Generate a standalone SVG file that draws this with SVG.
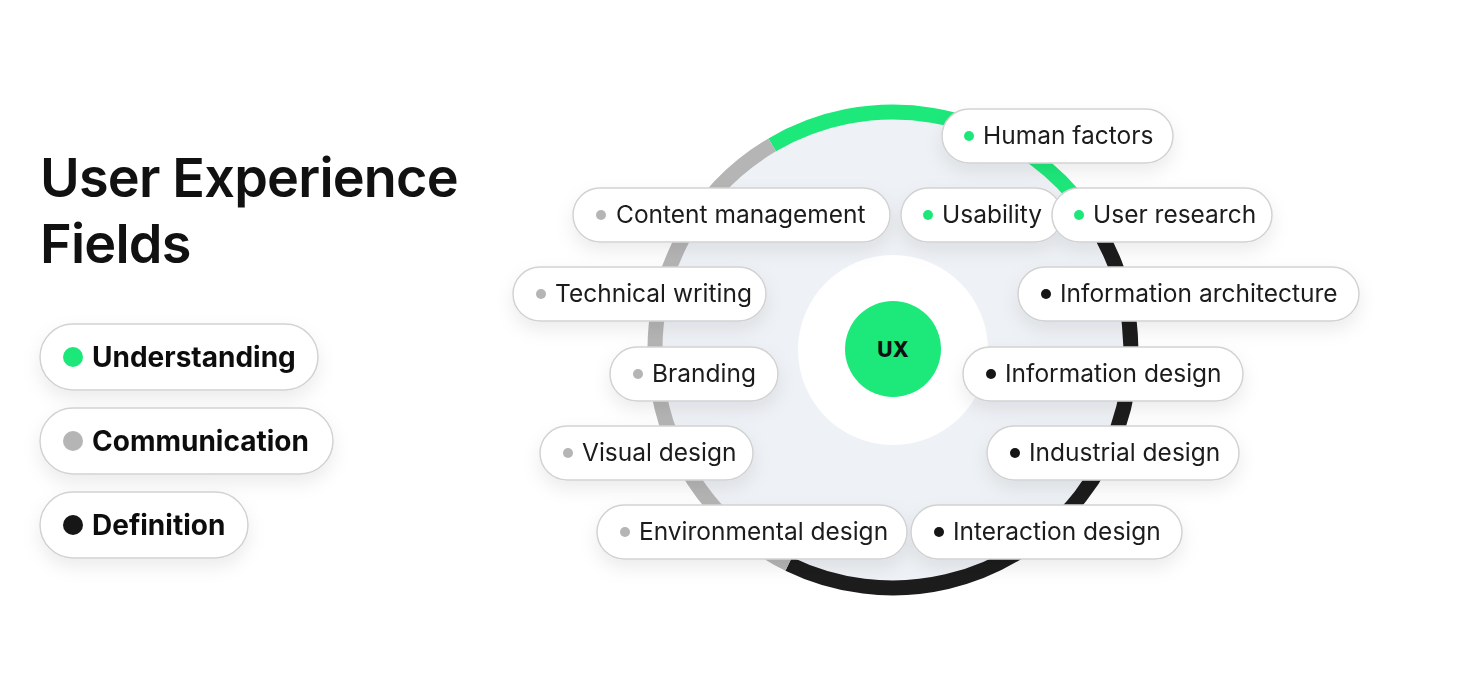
<svg xmlns="http://www.w3.org/2000/svg" width="1460" height="700" viewBox="0 0 1460 700">
<style>
.pill{fill:#fff;stroke:#d2d2d2;stroke-width:1.5}
.t{font-family:Inter,"Noto Sans",sans-serif;font-size:24.5px;fill:#1a1a1a}
.lt{font-family:Inter,"Noto Sans",sans-serif;font-size:28px;font-weight:700;fill:#111}
.g{fill:#1de87a}.c{fill:#b5b5b5}.d{fill:#161616}
.arc{fill:none;stroke-width:15}
</style>
<defs>
<filter id="sh" x="-20%" y="-40%" width="140%" height="200%"><feDropShadow dx="0" dy="8" stdDeviation="9" flood-color="#000" flood-opacity="0.08"/></filter>
</defs>
<rect width="1460" height="700" fill="#fff"/>
<text x="40" y="197" font-family="Inter,'Noto Sans',sans-serif" font-size="54" font-weight="600" fill="#111" letter-spacing="-0.8">User Experience</text>
<text x="40" y="263" font-family="Inter,'Noto Sans',sans-serif" font-size="54" font-weight="600" fill="#111" letter-spacing="-0.8">Fields</text>
<g id="legend" filter="url(#sh)">
<rect class="pill" x="40" y="324" width="278" height="66" rx="33"/><circle class="g" cx="73" cy="357" r="10"/><text class="lt" x="92" y="367">Understanding</text>
<rect class="pill" x="40" y="408" width="293" height="66" rx="33"/><circle class="c" cx="73" cy="441" r="10"/><text class="lt" x="92" y="451">Communication</text>
<rect class="pill" x="40" y="492" width="208" height="66" rx="33"/><circle class="d" cx="73" cy="525" r="10"/><text class="lt" x="92" y="535">Definition</text>
</g>
<g id="ring">
<circle cx="893" cy="350" r="238" fill="#eef1f5"/>
<path class="arc" stroke="#1de87a" d="M772.2,144.9 A238,238 0 0 1 1074.2,195.8"/>
<path class="arc" stroke="#1c1c1c" d="M1074.2,195.8 A238,238 0 0 1 788.7,563.9"/>
<path class="arc" stroke="#b5b5b5" d="M788.7,563.9 A238,238 0 0 1 772.2,144.9"/>
<circle cx="893" cy="350" r="95" fill="#fff"/>
</g>
<g id="ux"><circle cx="893" cy="349" r="48" fill="#1de87a"/><text x="893" y="357" text-anchor="middle" font-family="Inter,'Noto Sans',sans-serif" font-size="21" font-weight="800" fill="#111">UX</text></g>
<g id="nodes" filter="url(#sh)">
<g id="n1"><rect class="pill" x="942" y="109" width="231" height="54" rx="27"/><circle class="g" cx="969" cy="136" r="5"/><text class="t" x="983" y="144">Human factors</text></g>
<g id="n2"><rect class="pill" x="573" y="188" width="317" height="54" rx="27"/><circle class="c" cx="601" cy="215" r="5"/><text class="t" x="616" y="223">Content management</text></g>
<g id="n3"><rect class="pill" x="901" y="188" width="161" height="54" rx="27"/><circle class="g" cx="928" cy="215" r="5"/><text class="t" x="942" y="223">Usability</text></g>
<g id="n4"><rect class="pill" x="1052" y="188" width="220" height="54" rx="27"/><circle class="g" cx="1079" cy="215" r="5"/><text class="t" x="1093" y="223">User research</text></g>
<g id="n5"><rect class="pill" x="513" y="267" width="253" height="54" rx="27"/><circle class="c" cx="541" cy="294" r="5"/><text class="t" x="555" y="302">Technical writing</text></g>
<g id="n6"><rect class="pill" x="1018" y="267" width="341" height="54" rx="27"/><circle class="d" cx="1046" cy="294" r="5"/><text class="t" x="1060" y="302">Information architecture</text></g>
<g id="n7"><rect class="pill" x="610" y="347" width="168" height="54" rx="27"/><circle class="c" cx="638" cy="374" r="5"/><text class="t" x="652" y="382">Branding</text></g>
<g id="n8"><rect class="pill" x="963" y="347" width="280" height="54" rx="27"/><circle class="d" cx="991" cy="374" r="5"/><text class="t" x="1005" y="382">Information design</text></g>
<g id="n9"><rect class="pill" x="540" y="426" width="213" height="54" rx="27"/><circle class="c" cx="568" cy="453" r="5"/><text class="t" x="582" y="461">Visual design</text></g>
<g id="n10"><rect class="pill" x="987" y="426" width="252" height="54" rx="27"/><circle class="d" cx="1015" cy="453" r="5"/><text class="t" x="1029" y="461">Industrial design</text></g>
<g id="n11"><rect class="pill" x="597" y="505" width="310" height="54" rx="27"/><circle class="c" cx="625" cy="532" r="5"/><text class="t" x="639" y="540">Environmental design</text></g>
<g id="n12"><rect class="pill" x="911" y="505" width="271" height="54" rx="27"/><circle class="d" cx="939" cy="532" r="5"/><text class="t" x="953" y="540">Interaction design</text></g>
</g>
<g id="connectors"/>
</svg>
